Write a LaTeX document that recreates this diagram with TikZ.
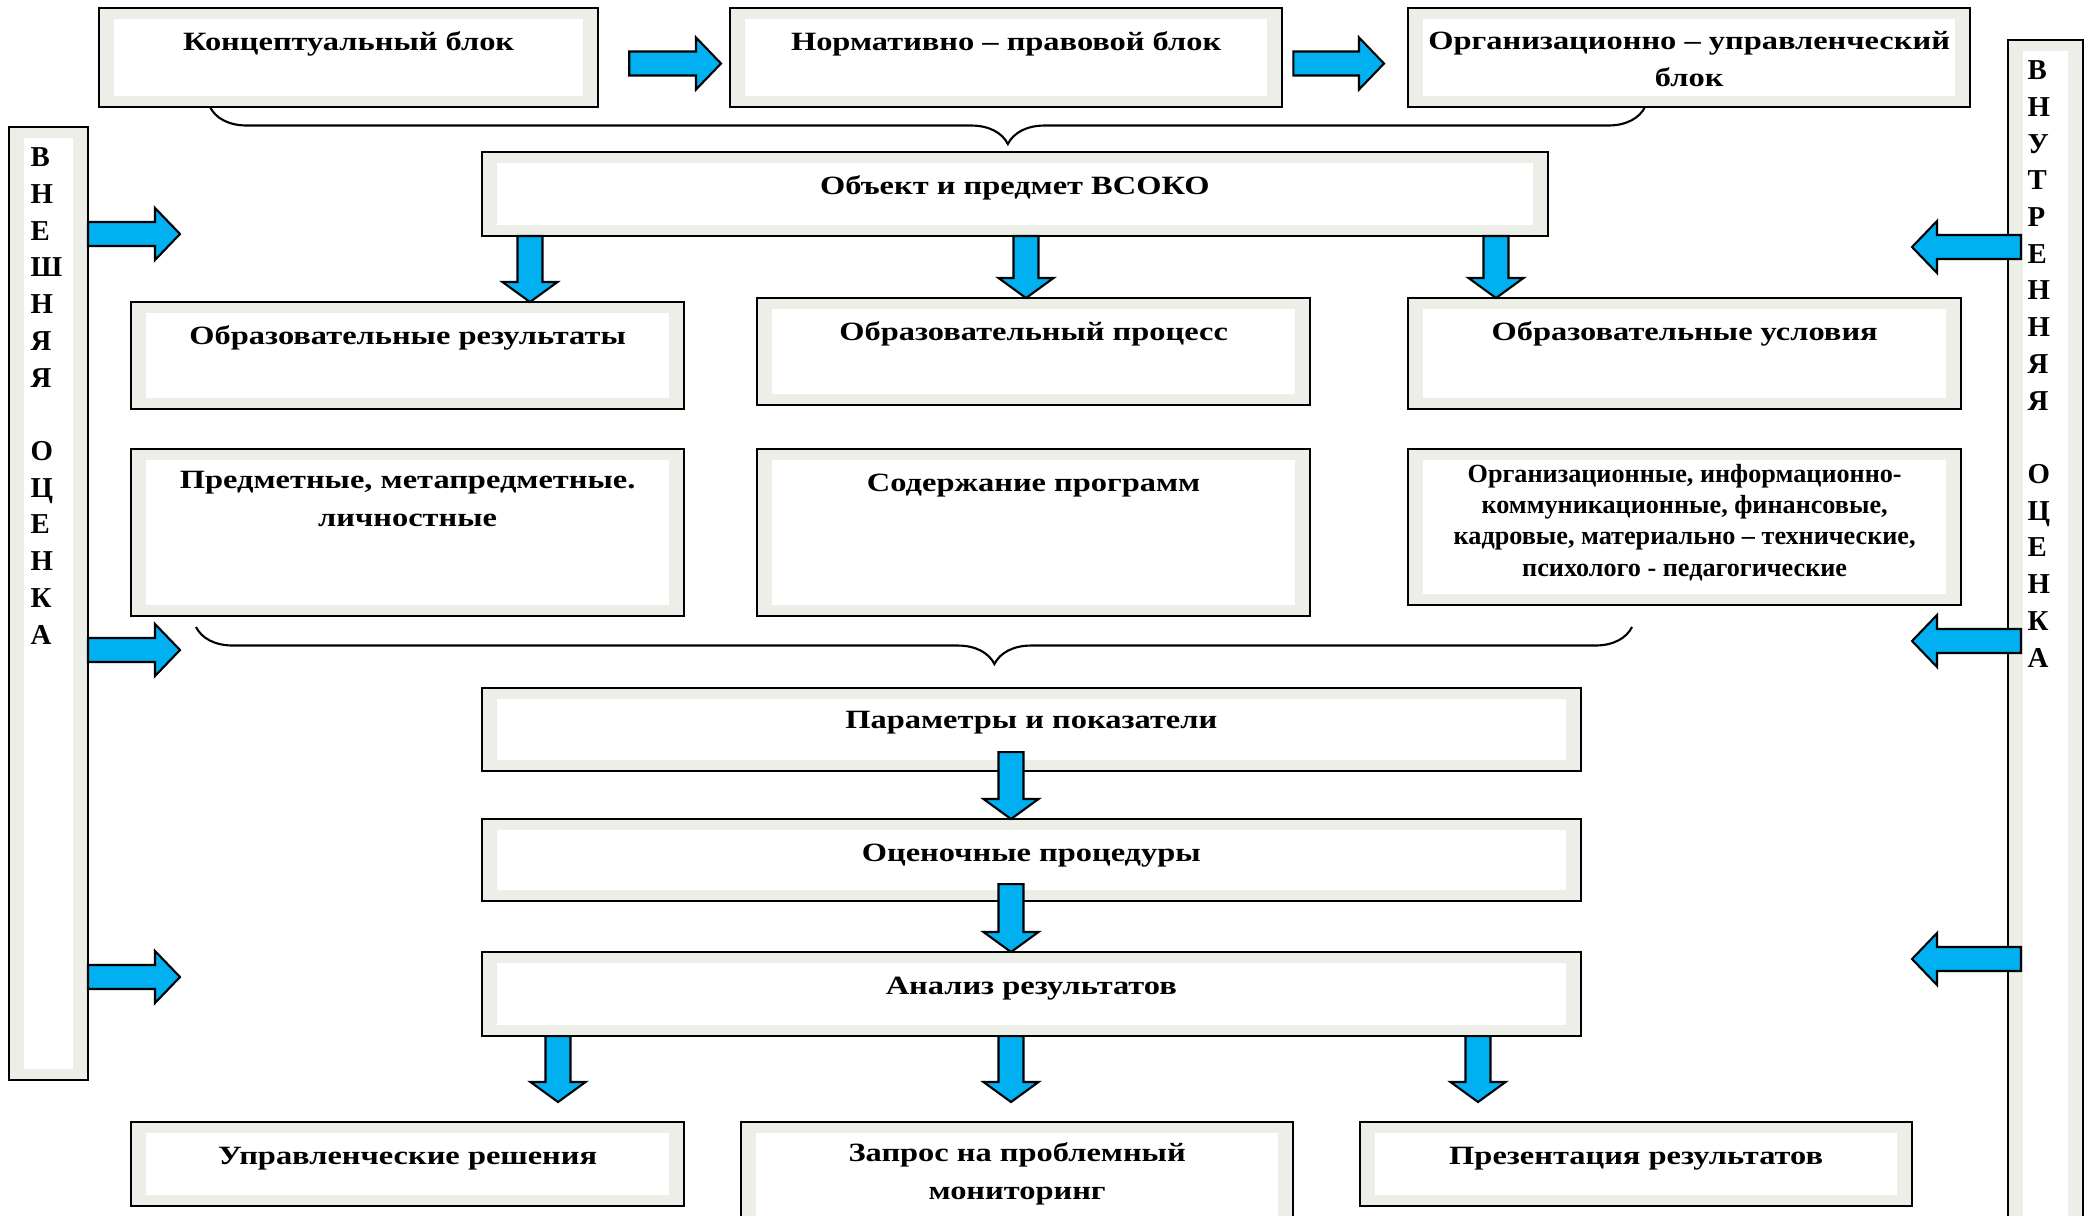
\documentclass[tikz,border=0pt]{standalone}
\usepackage{fontspec}
\setmainfont{Liberation Serif}
\newfontfamily\widefont{Liberation Serif}[FakeStretch=1.23]
\usetikzlibrary{calc,positioning,decorations.pathreplacing}
\definecolor{bandgray}{RGB}{236,238,232}
\definecolor{arrowblue}{RGB}{0,176,240}
\tikzset{
	blok/.style={draw=black, line width=0.6pt, fill=bandgray, inner sep=0pt, outer sep=0pt, anchor=north west,
		path picture={\fill[white] ([shift={(0.15cm,-0.11cm)}]path picture bounding box.north west) rectangle ([shift={(-0.15cm,0.11cm)}]path picture bounding box.south east);}},
	bloktext/.style={font=\widefont\bfseries\fontsize{7.5}{10.8}\selectfont, align=center, inner sep=0pt, anchor=base},
	smalltext/.style={font=\bfseries\fontsize{7.45}{8.9}\selectfont, align=center, inner sep=0pt, anchor=base},
	lettertext/.style={font=\bfseries\fontsize{8.2}{10.44}\selectfont, align=left, inner sep=0pt, anchor=base west},
	strelka/.style={draw=black, line width=0.6pt, fill=arrowblue, line join=miter},
	skobka/.style={decorate, decoration={brace, mirror, amplitude=0.37cm, aspect=0.556}, line width=0.6pt}
}
\begin{document}
\begin{tikzpicture}[x=0.01cm, y=-0.01cm]
			\newcommand{\myarrowdown}[2]{
				\draw[strelka] let \p1=(#1), \p2=(#2) in
				(\x1-0.125cm,\y1) -- (\x1+0.125cm,\y1) -- (\x1+0.125cm,\y2+0.2cm) -- (\x1+0.275cm,\y2+0.2cm)
				-- (\x1,\y2) -- (\x1-0.275cm,\y2+0.2cm) -- (\x1-0.125cm,\y2+0.2cm) -- cycle;
			}\newcommand{\myarrowright}[2]{
				\draw[strelka] let \p1=(#1), \p2=(#2) in
				(\x1,\y1+0.12cm) -- (\x2-0.25cm,\y1+0.12cm) -- (\x2-0.25cm,\y1+0.26cm) -- (\x2,\y1)
				-- (\x2-0.25cm,\y1-0.26cm) -- (\x2-0.25cm,\y1-0.12cm) -- (\x1,\y1-0.12cm) -- cycle;
			}\newcommand{\myarrowleft}[2]{
				\draw[strelka] let \p1=(#1), \p2=(#2) in
				(\x1,\y1+0.12cm) -- (\x2+0.25cm,\y1+0.12cm) -- (\x2+0.25cm,\y1+0.26cm) -- (\x2,\y1)
				-- (\x2+0.25cm,\y1-0.26cm) -- (\x2+0.25cm,\y1-0.12cm) -- (\x1,\y1-0.12cm) -- cycle;
			}%Page size
			\useasboundingbox (0,0) rectangle (2094,1215);
			\clip (0,0) rectangle (2094,1215);
			%Side bars (text nodes sit on the baseline of their last letter)
			\node [blok, minimum width=0.79cm, minimum height=9.52cm] (vnesh) at (9,127) {};
			\node [lettertext] (vnesh-t) at (30,644) {В\\Н\\Е\\Ш\\Н\\Я\\Я\\[10.44pt]О\\Ц\\Е\\Н\\К\\А};
			\node [blok, minimum width=0.75cm, minimum height=11.9cm] (vnutr) at (2008,40) {};
			\node [lettertext] (vnutr-t) at (2027,667) {В\\Н\\У\\Т\\Р\\Е\\Н\\Н\\Я\\Я\\[10.44pt]О\\Ц\\Е\\Н\\К\\А};
			%Top row
			\node [blok, minimum width=4.99cm, minimum height=0.99cm] (konc) at (99,8) {};
			\node [bloktext] (konc-t) at ($(konc.north)+(0,43)$) {Концептуальный блок};
			\node [blok, minimum width=5.52cm, minimum height=0.99cm] (norm) at (730,8) {};
			\node [bloktext] (norm-t) at ($(norm.north)+(0,43)$) {Нормативно – правовой блок};
			\node [blok, minimum width=5.62cm, minimum height=0.99cm] (orgupr) at (1408,8) {};
			\node [bloktext] (orgupr-t) at ($(orgupr.north)+(0,79)$) {Организационно – управленческий\\блок};
			%Object
			\node [blok, minimum width=10.65cm, minimum height=0.84cm] (obj) at (482,152) {};
			\node [bloktext] (obj-t) at ($(obj.north)+(0,42)$) {Объект и предмет ВСОКО};
			%Second row
			\node [blok, minimum width=5.53cm, minimum height=1.07cm] (rez) at (131,302) {};
			\node [bloktext] (rez-t) at ($(rez.north)+(0,42)$) {Образовательные результаты};
			\node [blok, minimum width=5.53cm, minimum height=1.07cm] (proc) at (757,298) {};
			\node [bloktext] (proc-t) at ($(proc.north)+(0,42)$) {Образовательный процесс};
			\node [blok, minimum width=5.53cm, minimum height=1.11cm] (usl) at (1408,298) {};
			\node [bloktext] (usl-t) at ($(usl.north)+(0,42)$) {Образовательные условия};
			%Third row
			\node [blok, minimum width=5.53cm, minimum height=1.67cm] (predm) at (131,449) {};
			\node [bloktext] (predm-t) at ($(predm.north)+(0,77)$) {Предметные, метапредметные.\\личностные};
			\node [blok, minimum width=5.53cm, minimum height=1.67cm] (sod) at (757,449) {};
			\node [bloktext] (sod-t) at ($(sod.north)+(0,42)$) {Содержание программ};
			\node [blok, minimum width=5.53cm, minimum height=1.56cm] (orgusl) at (1408,449) {};
			\node [smalltext] (orgusl-t) at ($(orgusl.north)+(0,127)$) {Организационные, информационно-\\коммуникационные, финансовые,\\кадровые, материально – технические,\\психолого - педагогические};
			%Middle column
			\node [blok, minimum width=10.98cm, minimum height=0.83cm] (param) at (482,688) {};
			\node [bloktext] (param-t) at ($(param.north)+(0,40)$) {Параметры и показатели};
			\node [blok, minimum width=10.98cm, minimum height=0.82cm] (ocen) at (482,819) {};
			\node [bloktext] (ocen-t) at ($(ocen.north)+(0,42)$) {Оценочные процедуры};
			\node [blok, minimum width=10.98cm, minimum height=0.84cm] (anal) at (482,952) {};
			\node [bloktext] (anal-t) at ($(anal.north)+(0,42)$) {Анализ результатов};
			%Bottom row
			\node [blok, minimum width=5.53cm, minimum height=0.84cm] (upr) at (131,1122) {};
			\node [bloktext] (upr-t) at ($(upr.north)+(0,42)$) {Управленческие решения};
			\node [blok, minimum width=5.52cm, minimum height=1.08cm] (zapr) at (741,1122) {};
			\node [bloktext] (zapr-t) at ($(zapr.north)+(0,77)$) {Запрос на проблемный\\мониторинг};
			\node [blok, minimum width=5.52cm, minimum height=0.84cm] (prez) at (1360,1122) {};
			\node [bloktext] (prez-t) at ($(prez.north)+(0,42)$) {Презентация результатов};
			%Braces
			\coordinate (br1a) at (210,107);
			\coordinate (br1b) at (1645,107);
			\draw [skobka] (br1a) -- (br1b);
			\coordinate (br2a) at (196,627);
			\coordinate (br2b) at (1632,627);
			\draw [skobka] (br2a) -- (br2b);
			%Arrows top row
			\myarrowright{$(konc.east)+(31,6)$}{$(norm.west)+(-9,6)$}
			\myarrowright{$(norm.east)+(11,6)$}{$(orgupr.west)+(-24,6)$}
			%Arrows from object
			\myarrowdown{530,0 |- obj.south}{530,0 |- rez.north}
			\myarrowdown{1026,0 |- obj.south}{1026,0 |- proc.north}
			\myarrowdown{1496,0 |- obj.south}{1496,0 |- usl.north}
			%Arrows middle column
			\myarrowdown{$(1011,0 |- param.south)+(0,-19)$}{1011,0 |- ocen.north}
			\myarrowdown{$(1011,0 |- ocen.south)+(0,-17)$}{1011,0 |- anal.north}
			%Arrows to the bottom row
			\myarrowdown{558,0 |- anal.south}{$(558,0 |- upr.north)+(0,-20)$}
			\myarrowdown{1011,0 |- anal.south}{$(1011,0 |- zapr.north)+(0,-20)$}
			\myarrowdown{1478,0 |- anal.south}{$(1478,0 |- prez.north)+(0,-20)$}
			%Arrows from the side bars
			\coordinate (l1) at (180,234);
			\coordinate (l2) at (180,650);
			\coordinate (l3) at (180,977);
			\myarrowright{vnesh.east |- l1}{l1}
			\myarrowright{vnesh.east |- l2}{l2}
			\myarrowright{vnesh.east |- l3}{l3}
			\coordinate (r1) at (1912,247);
			\coordinate (r2) at (1912,641);
			\coordinate (r3) at (1912,959);
			\myarrowleft{$(vnutr.west |- r1)+(13,0)$}{r1}
			\myarrowleft{$(vnutr.west |- r2)+(13,0)$}{r2}
			\myarrowleft{$(vnutr.west |- r3)+(13,0)$}{r3}
\end{tikzpicture}
\end{document}
